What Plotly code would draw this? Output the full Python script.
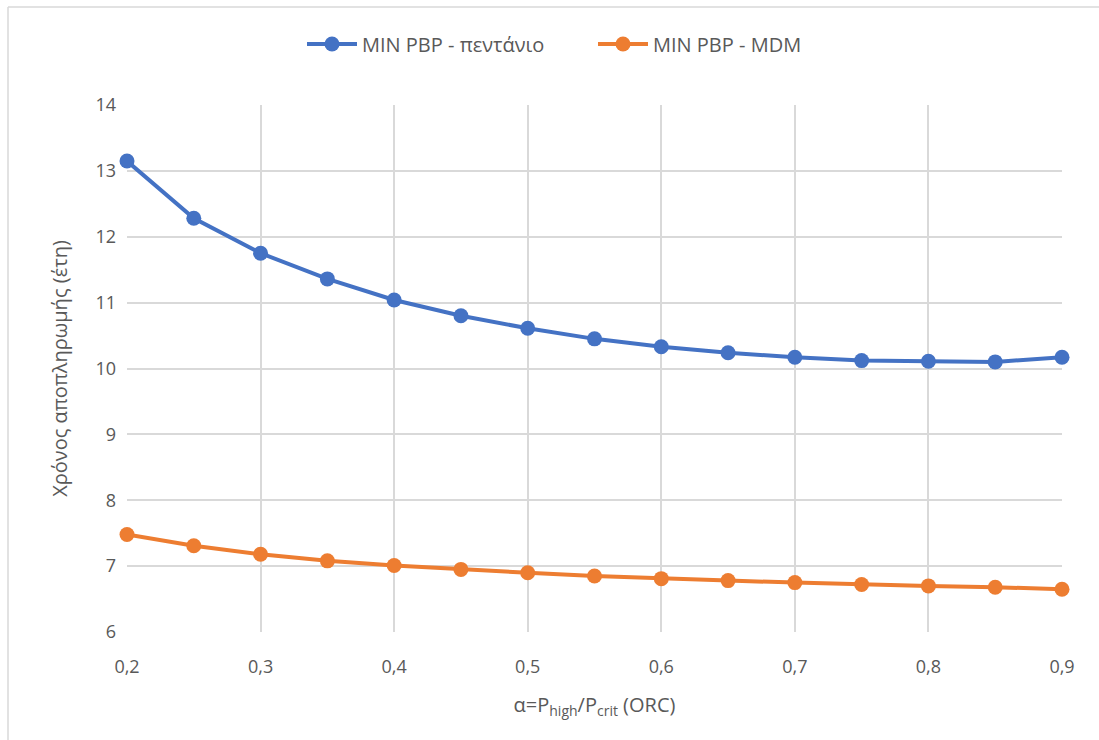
import plotly.graph_objects as go

# Pressure ratio α = P_high / P_crit
alpha = [0.2, 0.25, 0.3, 0.35, 0.4, 0.45, 0.5, 0.55, 0.6, 0.65, 0.7, 0.75, 0.8, 0.85, 0.9]

# Minimum payback period (years) for each working fluid
pbp_pentane = [13.15, 12.28, 11.75, 11.36, 11.04, 10.80, 10.61, 10.45, 10.33, 10.24,
               10.17, 10.12, 10.11, 10.10, 10.17]
pbp_mdm = [7.48, 7.31, 7.18, 7.08, 7.01, 6.95, 6.90, 6.85, 6.81, 6.78,
           6.75, 6.72, 6.70, 6.68, 6.65]

series_names = ["MIN PBP - πεντάνιο", "MIN PBP - MDM"]
x_ticks = [0.2, 0.3, 0.4, 0.5, 0.6, 0.7, 0.8, 0.9]
x_tick_text = ["0,2", "0,3", "0,4", "0,5", "0,6", "0,7", "0,8", "0,9"]
y_ticks = [6, 7, 8, 9, 10, 11, 12, 13, 14]

FONT = "Open Sans, Noto Sans, sans-serif"
TXT = "#595959"
GRID = "#d9d9d9"

fig = go.Figure()
for name, vals, col in [(series_names[0], pbp_pentane, "#4472c4"),
                        (series_names[1], pbp_mdm, "#ed7d31")]:
    fig.add_trace(go.Scatter(
        x=alpha, y=vals, name=name, mode="lines+markers",
        line=dict(color=col, width=4),
        marker=dict(color=col, size=15),
        cliponaxis=False,
    ))

# Plot area geometry in pixels
W, H = 1099, 740
L, R, T, B = 127, 37, 105, 108
pw, ph = W - L - R, H - T - B


def px_x(px):
    return (px - L) / pw


def px_y(py):
    return (H - B - py) / ph


fig.update_layout(
    width=W, height=H,
    margin=dict(l=L, r=R, t=T, b=B),
    paper_bgcolor="white", plot_bgcolor="white",
    font=dict(family=FONT, color=TXT, size=18),
    showlegend=True,
    legend=dict(orientation="h", x=px_x(302), xanchor="left",
                y=px_y(44), yanchor="middle",
                font=dict(size=20, color=TXT), itemwidth=50,
                entrywidth=226, entrywidthmode="pixels",
                traceorder="normal", bgcolor="rgba(0,0,0,0)"),
    xaxis=dict(range=[0.2, 0.9], tickvals=x_ticks, ticktext=x_tick_text,
               showgrid=True, gridcolor=GRID, gridwidth=1.5,
               zeroline=False, showline=False, ticks="",
               ticklabelstandoff=22,
               tickfont=dict(size=18, color=TXT),
               title=dict(text="α=P<sub>high</sub>/P<sub>crit</sub> (ORC)",
                          font=dict(size=20, color=TXT), standoff=20)),
    yaxis=dict(range=[6, 14], tickvals=y_ticks,
               showgrid=True, gridcolor=GRID, gridwidth=1.5,
               zeroline=False, showline=False, ticks="",
               ticklabelstandoff=10,
               tickfont=dict(size=18, color=TXT),
               title=dict(text="Χρόνος αποπληρωμής (έτη)",
                          font=dict(size=20, color=TXT), standoff=22)),
    shapes=[
        dict(type="line", xref="paper", yref="paper",
             x0=px_x(8), x1=px_x(W + 5), y0=px_y(7), y1=px_y(7),
             line=dict(color="#d9d9d9", width=1.5)),
        dict(type="line", xref="paper", yref="paper",
             x0=px_x(8), x1=px_x(8), y0=px_y(7), y1=px_y(H + 5),
             line=dict(color="#d9d9d9", width=1.5)),
    ],
)

fig.write_html("out.html")
